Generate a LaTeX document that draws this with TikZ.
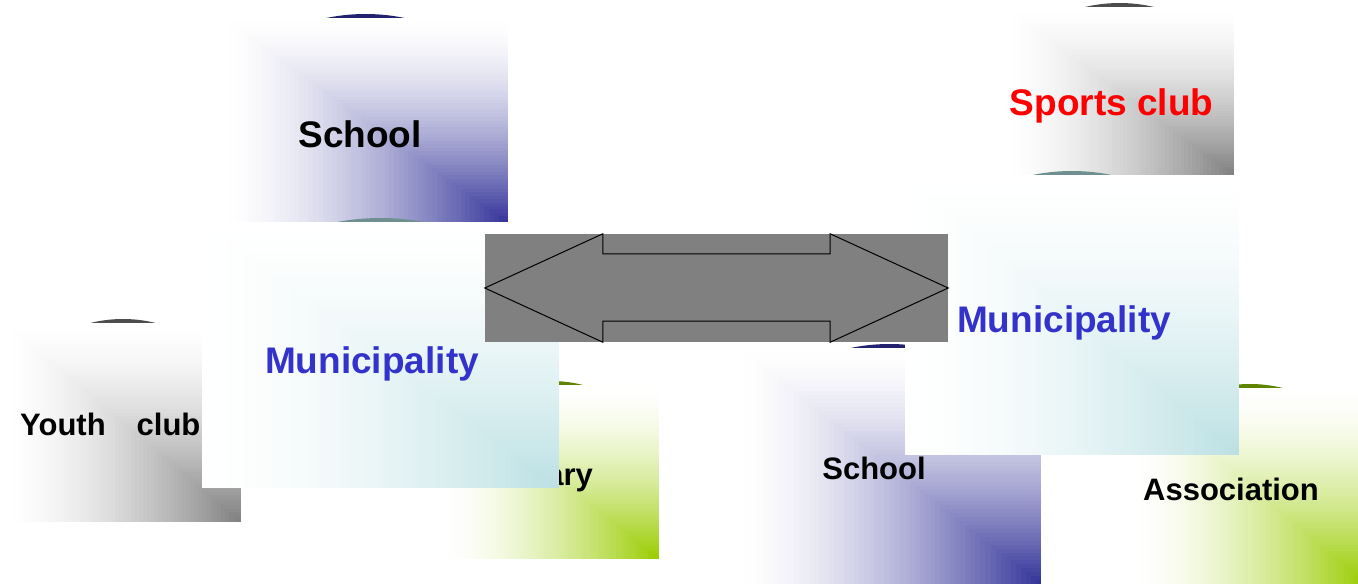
\documentclass[tikz,border=0pt]{standalone}
\usepackage{fontspec}
\setmainfont{Liberation Sans}
\usetikzlibrary{calc}

\definecolor{navy}{HTML}{333399}
\definecolor{midgray}{HTML}{808080}
\definecolor{leaf}{HTML}{99CC00}
\definecolor{frost}{HTML}{BBE0E3}
\definecolor{navycap}{HTML}{22226E}
\definecolor{graycap}{HTML}{4D4D4D}
\definecolor{leafcap}{HTML}{5F8500}
\definecolor{frostcap}{HTML}{6F8F90}
\definecolor{muniblue}{HTML}{3333CC}
\definecolor{clubred}{HTML}{FF0000}

\tikzset{
  label big/.style={font=\fontsize{37}{40}\selectfont\bfseries, inner sep=0pt, anchor=base},
  label small/.style={font=\fontsize{31}{34}\selectfont\bfseries, inner sep=0pt, anchor=base},
  linkbox/.style={fill=midgray, draw=none, minimum width=463pt, minimum height=108pt, inner sep=0pt},
  linkarrow/.style={draw=black, line width=1pt, fill=midgray, line join=miter},
}

% A panel: the top of an ellipse peeking out above it, then a corner
% gradient from white at the top left to the full colour at the bottom right.
% #1,#2 = top-left corner, #3,#4 = bottom-right corner, #5 = colour, #6 = ellipse colour
\newcommand\shadedpanel[6]{%
  \pgfmathsetmacro\panelcx{(#1+#3)/2}%
  \pgfmathsetmacro\panelcy{(#2+#4)/2}%
  \pgfmathsetmacro\panelrx{(#3-#1)/2+1}%
  \pgfmathsetmacro\panelry{(#4-#2)/2+4}%
  \begin{scope}
    \clip (#1-5,#2-20) rectangle (#3+5,#2);
    \fill[#6] (\panelcx,\panelcy) ellipse [x radius=\panelrx pt, y radius=\panelry pt];
  \end{scope}
  \foreach \k in {0,...,59}{%
    \pgfmathsetmacro\panelfrac{\k/60}%
    \pgfmathsetmacro\panelmix{100*(\panelfrac+1/120)^1.6}%
    \fill[#5!\panelmix!white] ({#1+\panelfrac*(#3-#1)},{#2+\panelfrac*(#4-#2)}) rectangle (#3,#4);
  }%
}

\begin{document}
\begin{tikzpicture}[x=1pt,y=-1pt]
  \useasboundingbox (0,0) rectangle (1358,584);
  \clip (0,0) rectangle (1358,584);
  \fill[white] (0,0) rectangle (1358,584);

  % upper school
  \shadedpanel{223}{18}{508}{223}{navy}{navycap}
  \node[label big] (schoolTop) at (360,147) {School};

  % sports club
  \shadedpanel{1005}{7}{1234}{175}{midgray}{graycap}
  \node[label big, text=clubred] (sports) at (1111.5,115) {Sports club};

  % youth club
  \shadedpanel{5}{323}{241}{522}{midgray}{graycap}
  \node[label small, anchor=base west] (youth) at (20,435) {Youth\hspace{31pt}club};

  % library
  \shadedpanel{443}{385}{659}{559}{leaf}{leafcap}
  \node[label small, anchor=base east] (library) at (593,485) {Library};

  % lower school
  \shadedpanel{738}{348}{1041}{584}{navy}{navycap}
  \node[label small] (schoolLow) at (874,479) {School};

  % association
  \shadedpanel{1133}{388}{1367}{584}{leaf}{leafcap}
  \node[label small] (assoc) at (1231,500) {Association};

  % left municipality
  \shadedpanel{202}{222}{559}{488}{frost}{frostcap}
  \node[label big, text=muniblue] (muniL) at (372,373) {Municipality};

  % right municipality
  \shadedpanel{905}{175}{1239}{455}{frost}{frostcap}
  \node[label big, text=muniblue] (muniR) at (1064,332) {Municipality};

  % two-way link between the municipalities
  \node[linkbox] (link) at (716.5,288) {};
  \draw[linkarrow] (link.west)
    -- ($(link.north west)+(118,0)$)
    -- ($(link.north west)+(118,20)$)
    -- ($(link.north east)+(-118,20)$)
    -- ($(link.north east)+(-118,0)$)
    -- (link.east)
    -- ($(link.south east)+(-118,0)$)
    -- ($(link.south east)+(-118,-21)$)
    -- ($(link.south west)+(118,-21)$)
    -- ($(link.south west)+(118,0)$)
    -- cycle;
\end{tikzpicture}
\end{document}
